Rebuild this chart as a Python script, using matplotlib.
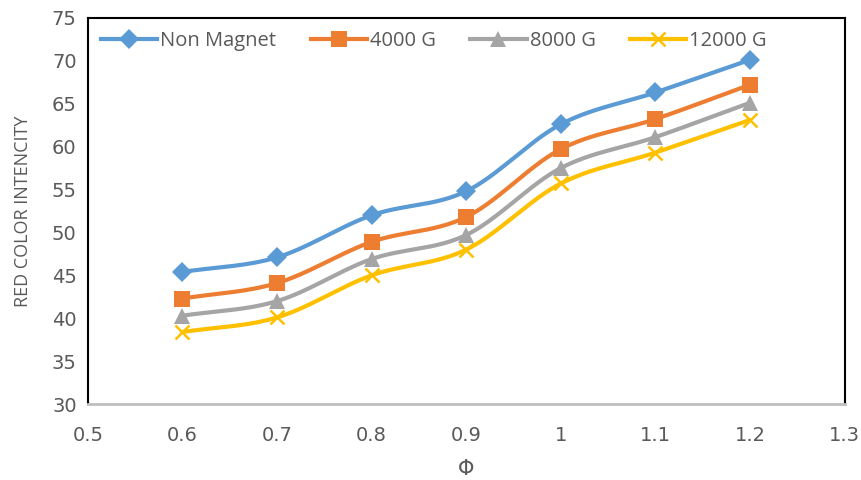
import matplotlib
matplotlib.use('Agg')
import matplotlib.pyplot as plt
import numpy as np

phi = [0.6, 0.7, 0.8, 0.9, 1.0, 1.1, 1.2]
non_magnet = [45.4, 47.1, 52.0, 54.8, 62.6, 66.3, 70.1]
g4000 = [42.3, 44.1, 48.9, 51.8, 59.7, 63.2, 67.2]
g8000 = [40.3, 42.0, 46.9, 49.7, 57.5, 61.1, 65.1]
g12000 = [38.4, 40.1, 45.0, 48.0, 55.7, 59.3, 63.1]

series = [
    ('Non Magnet', non_magnet, '#5B9BD5', 'D', 10),
    ('4000 G', g4000, '#ED7D31', 's', 11),
    ('8000 G', g8000, '#A5A5A5', '^', 11),
    ('12000 G', g12000, '#FFC000', 'x', 10),
]


def smooth(x, y, n=30):
    # Catmull-Rom curve through the points, like Excel's smoothed line
    x = np.asarray(x, float)
    y = np.asarray(y, float)
    px = np.concatenate([[2 * x[0] - x[1]], x, [2 * x[-1] - x[-2]]])
    py = np.concatenate([[2 * y[0] - y[1]], y, [2 * y[-1] - y[-2]]])
    t = np.linspace(0, 1, n)
    xs, ys = [], []
    for i in range(1, len(px) - 2):
        for p, out in ((px, xs), (py, ys)):
            p0, p1, p2, p3 = p[i - 1], p[i], p[i + 1], p[i + 2]
            out.extend(0.5 * (2 * p1 + (-p0 + p2) * t
                              + (2 * p0 - 5 * p1 + 4 * p2 - p3) * t ** 2
                              + (-p0 + 3 * p1 - 3 * p2 + p3) * t ** 3))
    return np.array(xs), np.array(ys)


fig = plt.figure(figsize=(8.61, 4.8), dpi=100)
ax = fig.add_axes([0.102, 0.158, 0.879, 0.805])

for name, vals, color, marker, ms in series:
    sx, sy = smooth(phi, vals)
    ax.plot(sx, sy, color=color, lw=3, solid_capstyle='round', zorder=2)
    mew = 1.8 if marker == 'x' else 0
    ax.plot(phi, vals, linestyle='none', marker=marker, ms=ms, color=color,
            mew=mew, zorder=3)
    ax.plot([], [], color=color, lw=3, marker=marker, ms=ms, mew=mew, label=name)

ax.set_xlim(0.5, 1.3)
ax.set_ylim(30, 75)
ax.set_xticks(np.arange(0.5, 1.31, 0.1))
ax.set_xticklabels(['0.5', '0.6', '0.7', '0.8', '0.9', '1', '1.1', '1.2', '1.3'])
ax.set_yticks(range(30, 76, 5))

for lab in ax.get_xticklabels() + ax.get_yticklabels():
    lab.set_fontfamily(['Liberation Sans Narrow', 'DejaVu Sans'])
    lab.set_fontsize(14)
    lab.set_color('#595959')
ax.tick_params(length=0, pad=8)
ax.tick_params(axis='x', pad=16)

for side in ('left', 'top', 'right'):
    ax.spines[side].set_color('black')
    ax.spines[side].set_linewidth(1.5)
ax.spines['bottom'].set_color('#BFBFBF')
ax.spines['bottom'].set_linewidth(2)

ax.set_xlabel('Φ', fontsize=15, color='#595959', family='DejaVu Sans', labelpad=10)
ax.set_ylabel('RED COLOR INTENCITY', fontsize=13, color='#595959',
              family='Open Sans', labelpad=14)

leg = ax.legend(loc='upper left', ncol=4, frameon=False,
                prop={'family': 'Open Sans', 'size': 14.5},
                handlelength=2.8, handletextpad=0.15, columnspacing=1.7,
                borderaxespad=0.25)
for t in leg.get_texts():
    t.set_color('#595959')

fig.savefig('out.png', dpi=100)
